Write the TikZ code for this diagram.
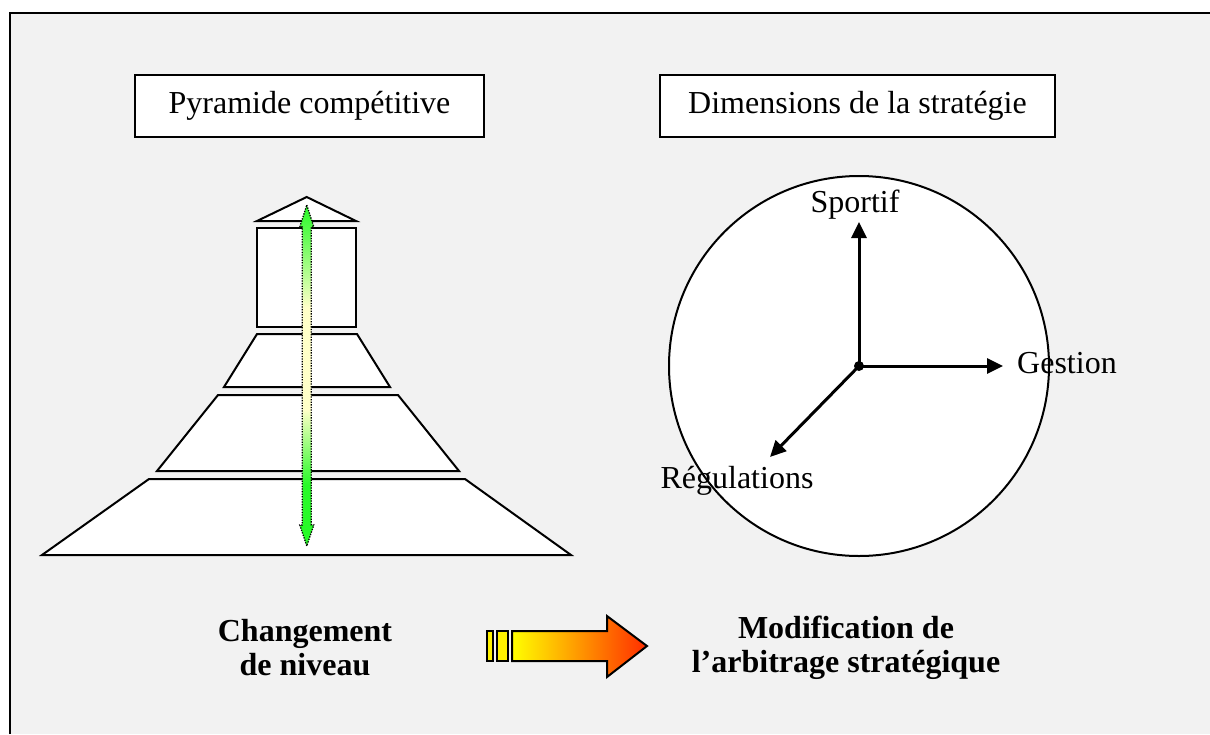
\documentclass[tikz,border=0pt]{standalone}
\usepackage{fontspec}
\setmainfont{Liberation Serif}
\usetikzlibrary{arrows.meta, positioning}

\definecolor{paneGray}{RGB}{242,242,242}
\definecolor{levelGreen}{RGB}{40,250,40}
\definecolor{levelPale}{RGB}{255,255,200}
\definecolor{shiftRed}{RGB}{255,45,0}
\definecolor{shiftOrange}{RGB}{255,165,0}

% green at both ends, pale in the middle
\pgfdeclareverticalshading{levelshade}{100bp}{color(0bp)=(levelGreen); color(25bp)=(levelGreen); color(34bp)=(levelGreen); color(45bp)=(levelPale); color(60bp)=(levelPale); color(70bp)=(levelGreen!70!levelPale); color(75bp)=(levelGreen); color(100bp)=(levelGreen)}

\begin{document}
\begin{tikzpicture}[
    x=1pt, y=-1pt,
    titlebox/.style={rectangle, draw=black, line width=1.8pt, fill=white, minimum height=62pt, inner sep=0pt, font=\fontsize{32}{36}\selectfont},
    axislabel/.style={inner sep=0pt, font=\fontsize{32}{36}\selectfont},
    caption/.style={align=center, inner sep=0pt, font=\fontsize{32}{34}\selectfont\bfseries},
    tier/.style={draw=black, line width=2pt, fill=white},
    axis/.style={-{Triangle[length=16pt,width=15pt]}, line width=3pt}
]

% Background
\useasboundingbox (0,0) rectangle (1210,734);
\fill[white] (0,0) rectangle (1210,734);
\fill[paneGray] (10,13) rectangle (1210,734);
\draw[line width=2pt] (10,734) -- (10,13) -- (1210,13);

% Titles
\node (pyrTitle) [titlebox, minimum width=349pt] at (309.5,106) {Pyramide compétitive};
\node (dimTitle) [titlebox, minimum width=395pt] at (857.5,106) {Dimensions de la stratégie};

% Pyramid
\draw[tier] (257,221) -- (306.7,197) -- (356,221) -- cycle;
\draw[tier] (257,228) rectangle (356,327);
\draw[tier] (257,334) -- (357,334) -- (390,387) -- (224,387) -- cycle;
\draw[tier] (218,395) -- (398,395) -- (459,471) -- (157,471) -- cycle;
\draw[tier] (149,479) -- (465,479) -- (571,555) -- (42,555) -- cycle;

% Level arrow
\draw[black, line width=1.3pt, dash pattern=on 1.3pt off 1.3pt, shading=levelshade]
    (306.8,205) -- (313.8,227) -- (311.3,227) -- (311.3,525) -- (313.8,525) -- (306.8,546)
    -- (299.8,525) -- (302.3,525) -- (302.3,227) -- (299.8,227) -- cycle;

% Strategy circle
\node (dims) [circle, draw=black, line width=2pt, fill=white, minimum size=380pt, inner sep=0pt] at (859,366) {};
\coordinate (origin) at (859,366);
\coordinate (tipS) at (859,222);
\coordinate (tipG) at (1003,366);
\coordinate (tipR) at (770,457);
\node (sportif) [axislabel, anchor=base] at (855,212) {Sportif};
\node (gestion) [axislabel, anchor=base west] at (1017,373) {Gestion};
\node (regul) [axislabel, anchor=base] at (737,488) {Régulations};

% Arrows
\draw[axis] (origin) -- (tipS);
\draw[axis] (origin) -- (tipG);
\draw[axis] (origin) -- (tipR);
\fill (origin) circle (5pt);

% Captions
\node (change) [caption] at (305,648) {Changement\\de niveau};
\node (modif) [caption] at (846,648) {Modification de\\l’arbitrage stratégique};

% Shift arrow
\draw[line width=2pt, fill=yellow] (487,631) rectangle (493,661);
\draw[line width=2pt, fill=yellow] (497,631) rectangle (508,661);
\draw[line width=2pt, left color=yellow, middle color=shiftOrange, right color=shiftRed]
    (512,631) -- (607,631) -- (607,616) -- (647,646) -- (607,677) -- (607,661) -- (512,661) -- cycle;

\end{tikzpicture}
\end{document}
